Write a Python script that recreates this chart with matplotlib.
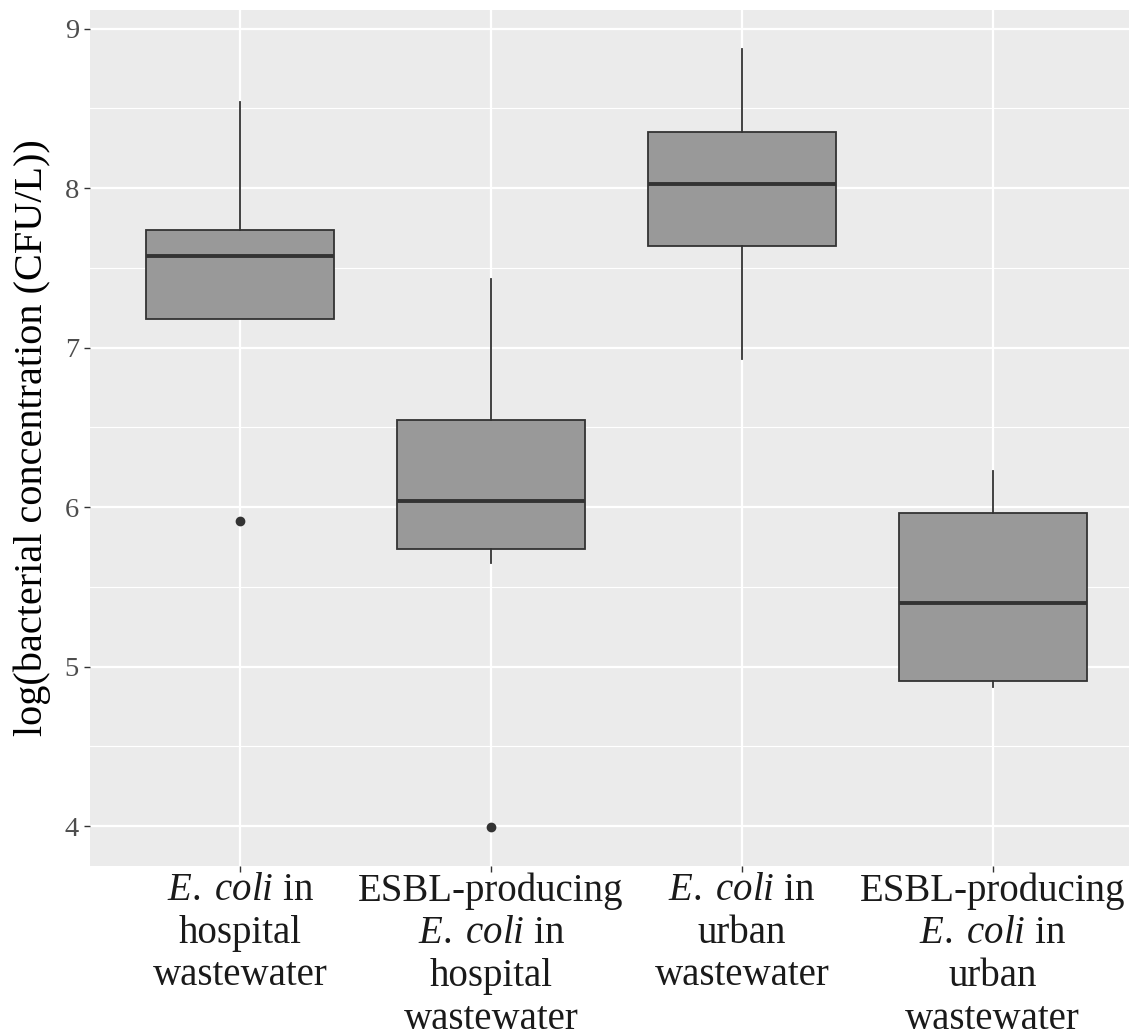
import matplotlib
matplotlib.use("Agg")
import matplotlib.pyplot as plt
from matplotlib.ticker import MultipleLocator

# Data
categories = [
    "$\\mathit{E.\\;coli}$ in\nhospital\nwastewater",
    "ESBL-producing\n$\\mathit{E.\\;coli}$ in\nhospital\nwastewater",
    "$\\mathit{E.\\;coli}$ in\nurban\nwastewater",
    "ESBL-producing\n$\\mathit{E.\\;coli}$ in\nurban\nwastewater",
]
whisker_low = [7.18, 5.65, 6.93, 4.875]
q1 = [7.18, 5.735, 7.635, 4.91]
median = [7.575, 6.04, 8.025, 5.40]
q3 = [7.735, 6.545, 8.352, 5.965]
whisker_high = [8.54, 7.43, 8.87, 6.225]
outliers = [[5.915], [3.995], [], []]
y_ticks = [4, 5, 6, 7, 8, 9]
y_label = "log(bacterial concentration (CFU/L))"

plt.rcParams['font.family'] = ['Liberation Serif', 'DejaVu Serif']
plt.rcParams['mathtext.fontset'] = 'custom'
plt.rcParams['mathtext.rm'] = 'Liberation Serif'
plt.rcParams['mathtext.it'] = 'Liberation Serif:italic'

fig = plt.figure(figsize=(11.29, 10.36), dpi=100)
ax = fig.add_axes([90 / 1129, 170 / 1036, 1 - 90 / 1129, (866 - 10) / 1036])
ax.set_facecolor('#EBEBEB')
for s in ax.spines.values():
    s.set_visible(False)

stats = []
for i in range(len(categories)):
    stats.append(dict(med=median[i], q1=q1[i], q3=q3[i],
                      whislo=whisker_low[i], whishi=whisker_high[i],
                      fliers=outliers[i]))
positions = list(range(1, len(categories) + 1))
ax.bxp(stats, positions=positions, widths=0.75, patch_artist=True,
       showcaps=False, manage_ticks=False,
       boxprops=dict(facecolor='#999999', edgecolor='#333333', linewidth=1.3),
       medianprops=dict(color='#333333', linewidth=2.8),
       whiskerprops=dict(color='#333333', linewidth=1.3),
       flierprops=dict(marker='o', markerfacecolor='#333333', markeredgecolor='#333333',
                       markersize=6))

ax.set_xlim(0.4, 0.4 + (1129 - 90) / 250.7)
ax.set_ylim(3.75, 9.117)
ax.set_xticks(positions)
ax.set_xticklabels(categories, fontsize=28, color='#1A1A1A', linespacing=1.2)
ax.set_yticks(y_ticks)
ax.set_yticklabels([str(t) for t in y_ticks], fontsize=20.5, color='#4D4D4D')
ax.yaxis.set_minor_locator(MultipleLocator(0.5))
ax.grid(which='major', color='white', linewidth=1.6)
ax.grid(which='minor', axis='y', color='white', linewidth=0.8)
ax.set_axisbelow(True)
ax.tick_params(axis='both', which='major', length=4, width=1, color='#333333', pad=4)
ax.tick_params(axis='x', which='major', pad=0.5)
ax.tick_params(axis='y', which='minor', length=0)
ax.set_ylabel(y_label, fontsize=29, color='black', labelpad=10)

fig.savefig('out.png', dpi=100)
